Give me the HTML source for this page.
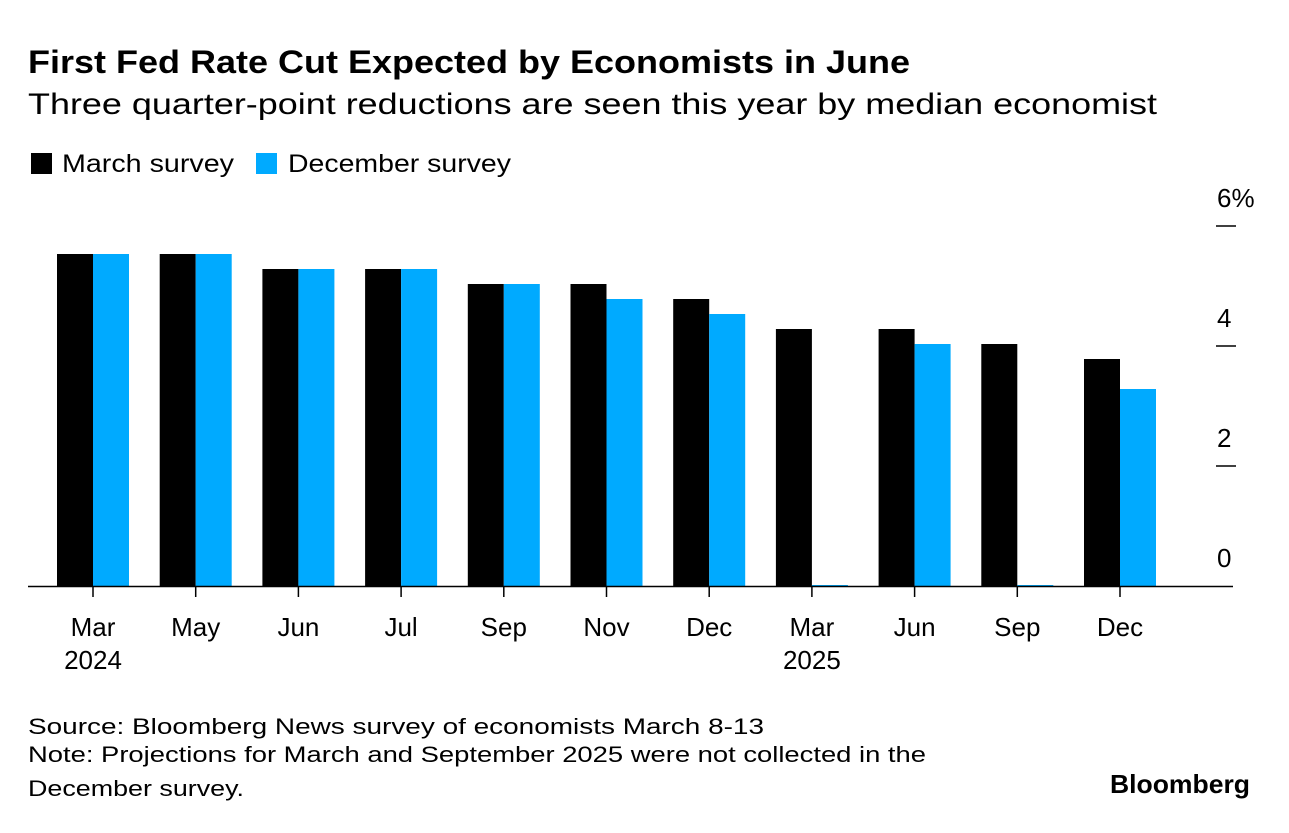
<!DOCTYPE html>
<html><head><meta charset="utf-8"><style>
body{margin:0;background:#fff;width:1289px;height:828px;overflow:hidden;font-family:"Liberation Sans",Arial,sans-serif;}
svg text{font-family:"Liberation Sans",Arial,sans-serif;}
</style></head><body>
<svg id="chart" width="1289" height="828">
<text x="28" y="73" font-size="32" font-weight="bold" fill="#000" textLength="882" lengthAdjust="spacingAndGlyphs">First Fed Rate Cut Expected by Economists in June</text>
<text x="28" y="114" font-size="30" fill="#000" textLength="1129" lengthAdjust="spacingAndGlyphs">Three quarter-point reductions are seen this year by median economist</text>
<rect x="31" y="153" width="21" height="21" fill="#000"/>
<text x="62" y="172" font-size="25" textLength="172" lengthAdjust="spacingAndGlyphs">March survey</text>
<rect x="256" y="153" width="21" height="21" fill="#00aaff"/>
<text x="288" y="172" font-size="25" textLength="223" lengthAdjust="spacingAndGlyphs">December survey</text>
<g id="bars"></g>
<line x1="28" y1="586.5" x2="1233" y2="586.5" stroke="#000" stroke-width="1.5"/>
<g id="axes"></g>
<text x="28" y="734" font-size="22" textLength="736" lengthAdjust="spacingAndGlyphs">Source: Bloomberg News survey of economists March 8-13</text>
<text x="28" y="762" font-size="22" textLength="898" lengthAdjust="spacingAndGlyphs">Note: Projections for March and September 2025 were not collected in the</text>
<text x="28" y="796" font-size="22" textLength="216" lengthAdjust="spacingAndGlyphs">December survey.</text>
<text x="1110" y="793" font-size="26" font-weight="bold" textLength="140" lengthAdjust="spacingAndGlyphs">Bloomberg</text>
</svg>
<script>
const categories=["Mar","May","Jun","Jul","Sep","Nov","Dec","Mar","Jun","Sep","Dec"];
const years=["2024","","","","","","","2025","","",""];
const marchSurvey=[5.5,5.5,5.25,5.25,5.0,5.0,4.75,4.25,4.25,4.0,3.75];
const decemberSurvey=[5.5,5.5,5.25,5.25,5.0,4.75,4.5,null,4.0,null,3.25];
const yTicks=[0,2,4,6];
const yTickLabels=["0","2","4","6%"];
const NS="http://www.w3.org/2000/svg";
const y=v=>586-v*60-2*(v>0?1:0);
const xc=i=>93+i*102.7;
const bw=36;
const bars=document.getElementById('bars'), axes=document.getElementById('axes');
function mk(tag,attrs,parent){const e=document.createElementNS(NS,tag);for(const k in attrs)e.setAttribute(k,attrs[k]);parent.appendChild(e);return e;}
categories.forEach((c,i)=>{
  const m=mk('rect',{x:xc(i)-bw,y:y(marchSurvey[i]),width:bw,height:586-y(marchSurvey[i]),fill:'#000'},bars);
  
  
  const dv=decemberSurvey[i];
  const d=mk('rect',dv==null?{x:xc(i),y:585,width:bw,height:2,fill:'#00aaff'}:{x:xc(i),y:y(dv),width:bw,height:586-y(dv),fill:'#00aaff'},bars);
  
  
  const t=mk('line',{x1:xc(i),x2:xc(i),y1:586,y2:597,stroke:'#000','stroke-width':1.5},axes);
  
  
  const l=mk('text',{x:xc(i),y:636,'font-size':26,'text-anchor':'middle'},axes);
  l.textContent=c;
  
  
  if(years[i]){
    const yl=mk('text',{x:xc(i),y:669,'font-size':26,'text-anchor':'middle'},axes);
    yl.textContent=years[i];
    
    
  }
});
yTicks.forEach((v,i)=>{
  const yy=586-v*60;
  if(v>0){
    const t=mk('line',{x1:1216,x2:1236,y1:yy,y2:yy,stroke:'#000','stroke-width':1.5},axes);
    
    
  }
  const l=mk('text',{x:1217,y:yy-19,'font-size':26},axes);
  l.textContent=yTickLabels[i];
  
  
});
</script>
</body></html>
